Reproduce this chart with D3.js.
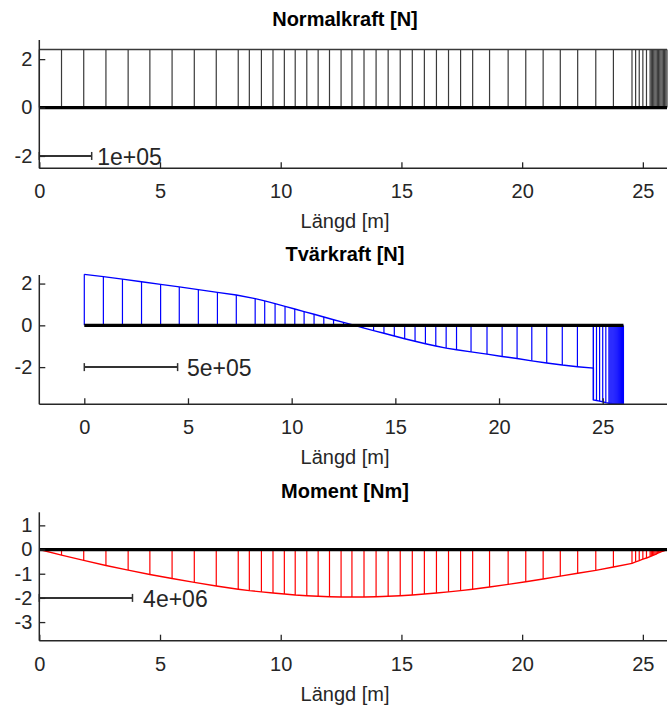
<!DOCTYPE html>
<html lang="en">
<head>
	<meta charset="utf-8">
	<title>Snittkrafter</title>
	<script src="https://d3js.org/d3.v7.min.js" charset="utf-8"></script>

    <style>
        body { margin: 0; background: #fff; }
        svg { font-family: "Liberation Sans", Arial, sans-serif; }
        .tick-label { fill: #262626; font-size: 20px; }
        .axis-label { fill: #262626; font-size: 20px; }
        .title { fill: #000; font-size: 20px; font-weight: bold; }
        .scale-text { fill: #262626; font-size: 23px; }
    </style>
</head>
<body>

	<script>
	var width = 669,
        height = 715;

    // node positions along the beam [m]
    var nodeX = [0, 0.92, 1.84, 2.76, 3.68, 4.58, 5.5, 6.42, 7.33, 8.24,
        8.7, 9.2, 9.68, 10.15, 10.6, 11.08, 11.55, 12.02, 12.5, 12.95,
        13.45, 13.95, 14.45, 14.95, 15.45, 15.95, 16.45, 16.95, 17.45, 17.95,
        18.65, 19.42, 20.15, 20.87, 21.58, 22.3, 23.05, 23.78, 24.55,
        24.7, 24.85, 25.0, 25.15, 25.3, 25.35, 25.4, 25.45, 25.5, 25.55,
        25.6, 25.65, 25.7, 25.75, 25.8, 25.85, 25.9, 25.95, 26.0];

    // normalkraft (scaled, 1e+05 bar)
    var normalVal = [2.4, 2.4, 2.4, 2.4, 2.4, 2.4, 2.4, 2.4, 2.4, 2.4,
        2.4, 2.4, 2.4, 2.4, 2.4, 2.4, 2.4, 2.4, 2.4, 2.4,
        2.4, 2.4, 2.4, 2.4, 2.4, 2.4, 2.4, 2.4, 2.4, 2.4,
        2.4, 2.4, 2.4, 2.4, 2.4, 2.4, 2.4, 2.4, 2.4,
        2.4, 2.4, 2.4, 2.4, 2.4, 2.4, 2.4, 2.4, 2.4, 2.4,
        2.4, 2.4, 2.4, 2.4, 2.4, 2.4, 2.4, 2.4, 2.4];

    // tvärkraft (scaled, 5e+05 bar) - jump at 24.55
    var shearX = [0, 0.92, 1.84, 2.76, 3.68, 4.58, 5.5, 6.42, 7.33, 8.24,
        8.7, 9.2, 9.68, 10.15, 10.6, 11.08, 11.55, 12.02, 12.5, 12.95,
        13.45, 13.95, 14.45, 14.95, 15.45, 15.95, 16.45, 16.95, 17.45, 17.95,
        18.65, 19.42, 20.15, 20.87, 21.58, 22.3, 23.05, 23.78, 24.55, 24.55,
        24.7, 24.85, 25.0, 25.15, 25.3, 25.35, 25.4, 25.45, 25.5, 25.55,
        25.6, 25.65, 25.7, 25.75, 25.8, 25.85, 25.9, 25.95, 26.0];
    var shearVal = [2.44, 2.33, 2.21, 2.09, 1.96, 1.84, 1.71, 1.58, 1.45, 1.28,
        1.17, 1.04, 0.91, 0.78, 0.66, 0.53, 0.40, 0.27, 0.14, 0.02,
        -0.12, -0.25, -0.38, -0.51, -0.64, -0.76, -0.88, -0.99, -1.09, -1.17,
        -1.27, -1.38, -1.49, -1.59, -1.70, -1.80, -1.90, -1.98, -2.05, -3.57,
        -3.60, -3.63, -3.66, -3.70, -3.73, -3.74, -3.74, -3.75, -3.75, -3.76,
        -3.76, -3.76, -3.77, -3.77, -3.77, -3.78, -3.78, -3.78, -3.78];

    // moment (scaled, 4e+06 bar)
    var momentVal = [0, -0.23, -0.45, -0.66, -0.85, -1.03, -1.20, -1.36, -1.51, -1.64,
        -1.70, -1.75, -1.80, -1.84, -1.88, -1.91, -1.93, -1.95, -1.96, -1.96,
        -1.96, -1.95, -1.93, -1.91, -1.88, -1.84, -1.80, -1.75, -1.70, -1.64,
        -1.55, -1.44, -1.33, -1.22, -1.10, -0.98, -0.86, -0.72, -0.57,
        -0.51, -0.46, -0.40, -0.35, -0.29, -0.27, -0.25, -0.23, -0.21, -0.19,
        -0.16, -0.14, -0.12, -0.10, -0.08, -0.06, -0.04, -0.02, 0];

    var xTicks = [0, 5, 10, 15, 20, 25];

    var svg = d3.select("body").append("svg")
                .attr("width", width)
                .attr("height", height);

    var panels = [
        {title: "Normalkraft [N]", xs: nodeX, ys: normalVal, color: "#3a3a3a",
         xDomain: [0, 26], yDomain: [-2.51, 2.79], top: 40, bottom: 168.3,
         yTicks: [-2, 0, 2], bar: 2.17, barLabel: "1e+05", labelX: 2.4},
        {title: "Tvärkraft [N]", xs: shearX, ys: shearVal, color: "#0000ff",
         xDomain: [-2.17, 28.1], yDomain: [-3.78, 2.41], top: 275, bottom: 404.3,
         yTicks: [-2, 0, 2], bar: 4.5, barLabel: "5e+05", labelX: 4.95},
        {title: "Moment [Nm]", xs: nodeX, ys: momentVal, color: "#ff0000",
         xDomain: [0, 26], yDomain: [-3.77, 1.54], top: 512.3, bottom: 640.7,
         yTicks: [-3, -2, -1, 0, 1], bar: 3.86, barLabel: "4e+06", labelX: 4.3}
    ];

    // plain hyphen minus, like the reference
    var fmt = function(d) { return String(d); };

    panels.forEach(function(p) {
        var x = d3.scaleLinear().domain(p.xDomain).range([39.3, 667]);
        var y = d3.scaleLinear().domain(p.yDomain).range([p.bottom, p.top]);
        var g = svg.append("g");

        // hatching
        g.selectAll("line.hatch")
            .data(p.xs)
            .enter().append("line")
            .attr("class", "hatch")
            .attr("x1", function(d) { return x(d); })
            .attr("x2", function(d) { return x(d); })
            .attr("y1", y(0))
            .attr("y2", function(d, i) { return y(p.ys[i]); })
            .attr("stroke", p.color)
            .attr("stroke-width", 1.2);

        // outline of the diagram
        var pts = p.xs.map(function(d, i) { return [d, p.ys[i]]; });
        g.append("path")
            .attr("d", d3.line().x(function(d) { return x(d[0]); }).y(function(d) { return y(d[1]); })(pts))
            .attr("fill", "none")
            .attr("stroke", p.color)
            .attr("stroke-width", 1.4);

        // the beam
        g.append("line")
            .attr("x1", x(0)).attr("x2", x(26))
            .attr("y1", y(0)).attr("y2", y(0))
            .attr("stroke", "#000")
            .attr("stroke-width", 3.2);

        // scale bar
        var bar = g.append("g").attr("stroke", "#333").attr("stroke-width", 2);
        bar.append("line")
            .attr("x1", x(0)).attr("x2", x(p.bar))
            .attr("y1", y(-2)).attr("y2", y(-2));
        [0, p.bar].forEach(function(v) {
            bar.append("line")
                .attr("x1", x(v)).attr("x2", x(v))
                .attr("y1", y(-2) - 4).attr("y2", y(-2) + 4)
                .attr("stroke-width", 1.5);
        });
        g.append("text")
            .attr("class", "scale-text")
            .attr("x", x(p.labelX))
            .attr("y", y(-2) + 9)
            .text(p.barLabel);

        // axes
        g.append("g")
            .attr("transform", "translate(0," + p.bottom + ")")
            .call(d3.axisBottom(x).tickValues(xTicks).tickFormat(fmt).tickSizeInner(-6).tickSizeOuter(0).tickPadding(15))
            .call(function(a) {
                a.select(".domain").attr("stroke", "#262626").attr("stroke-width", 1.5).attr("d", "M39.3,0H667");
                a.selectAll(".tick line").attr("stroke", "#262626").attr("stroke-width", 1.3);
                a.selectAll(".tick text").attr("class", "tick-label").attr("font-size", null).attr("font-family", null).attr("dy", "0.75em");
            });

        g.append("g")
            .attr("transform", "translate(39.3,0)")
            .call(d3.axisLeft(y).tickValues(p.yTicks).tickFormat(fmt).tickSizeInner(-6).tickSizeOuter(0).tickPadding(7))
            .call(function(a) {
                a.select(".domain").attr("stroke", "#262626").attr("stroke-width", 1.5)
                    .attr("d", "M0," + p.top + "V" + p.bottom);
                a.selectAll(".tick line").attr("stroke", "#262626").attr("stroke-width", 1.3);
                a.selectAll(".tick text").attr("class", "tick-label").attr("font-size", null).attr("font-family", null);
            });

        g.append("text")
            .attr("class", "title")
            .attr("x", 345)
            .attr("y", p.top - 14)
            .attr("text-anchor", "middle")
            .text(p.title);

        g.append("text")
            .attr("class", "axis-label")
            .attr("x", 345)
            .attr("y", p.bottom + 60)
            .attr("text-anchor", "middle")
            .text("Längd [m]");
    });

	</script>
</body>
</html>
